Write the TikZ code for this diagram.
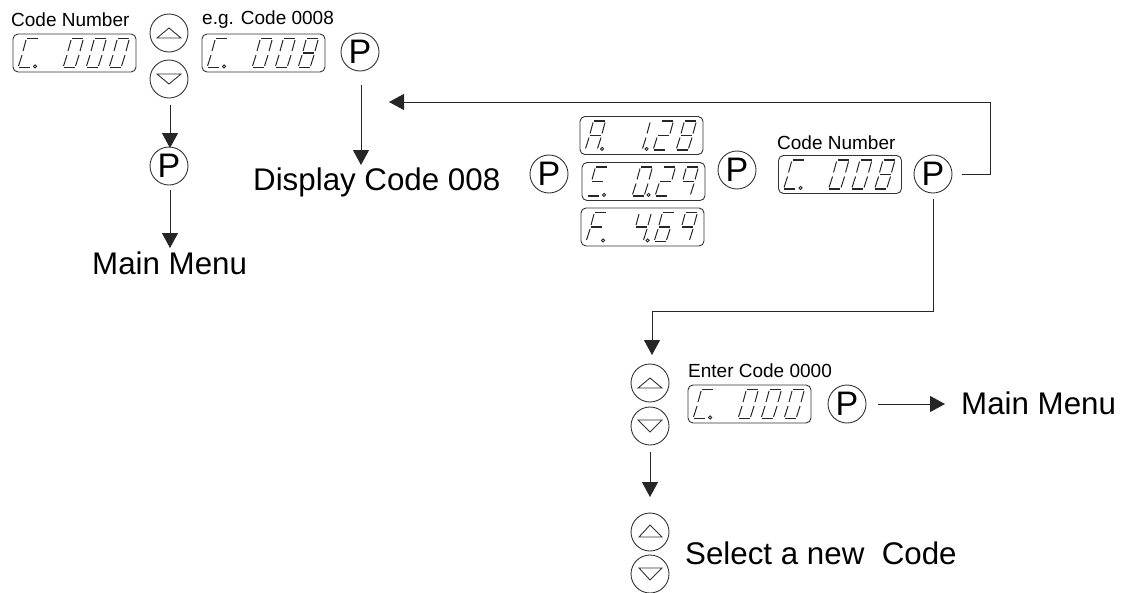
\documentclass[tikz,border=0pt]{standalone}
\usepackage{fontspec}
\setmainfont{Liberation Sans}
\usetikzlibrary{arrows.meta,calc}
\tikzset{
  x=1pt,y=-1pt,
  conn/.style={line width=1pt,draw=black!85,-{Triangle[length=15pt,width=16pt]}},
  keybtn/.style={circle,draw=black!80,line width=.9pt,minimum size=38pt,inner sep=0pt,font=\fontsize{34}{34}\selectfont},
  keytri/.style={line width=.9pt,draw=black!80},
  dispbox/.style={draw=black!80,line width=.9pt,rounded corners=5pt,minimum width=123pt,minimum height=38pt,inner sep=0pt},
  big/.style={inner sep=0pt,anchor=west,font=\fontsize{31.3}{32}\selectfont},
  small/.style={inner sep=0pt,anchor=west,font=\fontsize{19}{20}\selectfont},
  segthin/.style={line width=1pt,draw=black!85},
  segbold/.style={line width=1.8pt,draw=black!85},
}
\newcommand{\sseg}[2]{%
  \foreach \s in {#2}{%
    \if a\s \draw[segbold] ($(#1)+(9.5,-29)$) -- ($(#1)+(20.5,-29)$);\fi
    \if g\s \draw[segbold] ($(#1)+(5.5,-14.5)$) -- ($(#1)+(16.5,-14.5)$);\fi
    \if d\s \draw[segbold] ($(#1)+(1,0)$) -- ($(#1)+(12,0)$);\fi
    \if b\s \draw[segthin] ($(#1)+(20.5,-27.5)$) -- ($(#1)+(17.5,-16.5)$);\fi
    \if c\s \draw[segthin] ($(#1)+(16.5,-12.5)$) -- ($(#1)+(13,-1.5)$);\fi
    \if f\s \draw[segthin] ($(#1)+(8.5,-27.5)$) -- ($(#1)+(5.5,-16.5)$);\fi
    \if e\s \draw[segthin] ($(#1)+(4.5,-12.5)$) -- ($(#1)+(1,-1.5)$);\fi
  }%
}
\newcommand{\sdot}[1]{\draw[line width=.9pt,draw=black!85] (#1) circle (1.6pt);}
\newcommand{\sdisp}[5]{%
  \coordinate (o) at ($(#1.south west)+(5,-5)$);
  \sseg{$(o)+(0,0)$}{#2}
  \sdot{$(o)+(17.5,-1)$}
  \sseg{$(o)+(45,0)$}{#3}
  \sseg{$(o)+(68,0)$}{#4}
  \sseg{$(o)+(91,0)$}{#5}
}
\newcommand{\sdotb}[1]{\sdot{$(#1.south west)+(67,-6)$}}
\begin{document}
\begin{tikzpicture}
\useasboundingbox (0,0) rectangle (1122,592);
\clip (0,0) rectangle (1122,592);
% labels
\node[small] (l1) at (11,20) {Code Number};
\node[small] (l2) at (202,20) {e.g. Code 0008};
\node[small] (l3) at (777,143) {Code Number};
\node[small] (l4) at (688,371) {Enter Code 0000};
% top row
\node[dispbox] (d1) at (74.5,53) {};
\sdisp{d1}{a,f,e,d}{a,b,c,d,e,f}{a,b,c,d,e,f}{a,b,c,d,e,f}
\node[keybtn] (up1) at (169,33) {};
\node[keybtn] (dn1) at (169,79) {};
\draw[keytri] (157,38) -- (169,28) -- (181,38) -- cycle;
\draw[keytri] (157,74) -- (169,84) -- (181,74) -- cycle;
\node[dispbox] (d2) at (263.5,53) {};
\sdisp{d2}{a,f,e,d}{a,b,c,d,e,f}{a,b,c,d,e,f}{a,b,c,d,e,f,g}
\node[keybtn] (p1) at (360,52) {P};
\coordinate (a1s) at (170,105);
\coordinate (a1e) at (170,148);
\draw[conn] (a1s) -- (a1e);
\node[keybtn] (p2) at (169,166) {P};
\coordinate (a2e) at (170,248);
\draw[conn] (p2.south -| a2e) ++(0,5) -- (a2e);
\node[big] (mm1) at (92,263) {Main Menu};
\coordinate (a3s) at (361,85);
\coordinate (a3e) at (361,165);
\draw[conn] (a3s) -- (a3e);
\node[big] (dc) at (253,182) {Display Code 008};
% middle
\node[keybtn] (p3) at (549,174) {P};
\node[dispbox] (dA) at (641.5,135.5) {};
\sdisp{dA}{a,b,c,e,f,g}{b,c}{a,b,g,e,d}{a,b,c,d,e,f,g}
\sdotb{dA}
\node[dispbox] (dS) at (643.5,181.5) {};
\sdisp{dS}{a,f,g,d}{a,b,c,d,e,f}{a,b,g,e,d}{a,b,c,f,g}
\sdotb{dS}
\node[dispbox] (dF) at (642.5,227) {};
\sdisp{dF}{a,f,g,e}{f,g,b,c}{a,f,g,e,c,d}{a,b,c,f,g}
\sdotb{dF}
\node[keybtn] (p4) at (737,170) {P};
\node[dispbox] (d3) at (840,174.5) {};
\sdisp{d3}{a,f,e,d}{a,b,c,d,e,f}{a,b,c,d,e,f}{a,b,c,d,e,f,g}
\node[keybtn] (p5) at (933,174) {P};
% feedback arrow
\coordinate (fb1) at (990,174);
\coordinate (fb2) at (990,102);
\coordinate (fb3) at (389,102);
\draw[conn] (p5.east) ++(10,0) -- (fb1) -- (fb2) -- (fb3);
% down branch
\coordinate (br1) at (933,311);
\coordinate (br2) at (652,311);
\coordinate (br3) at (652,355);
\draw[conn] (p5.south) ++(0,6) -- (br1) -- (br2) -- (br3);
\node[keybtn] (up2) at (650,383) {};
\node[keybtn] (dn2) at (650,426) {};
\draw[keytri] (638,388) -- (650,378) -- (662,388) -- cycle;
\draw[keytri] (638,420) -- (650,432) -- (662,420) -- cycle;
\node[dispbox] (d4) at (749.5,404) {};
\sdisp{d4}{a,f,e,d}{a,b,c,d,e,f}{a,b,c,d,e,f}{a,b,c,d,e,f}
\node[keybtn] (p6) at (847,404) {P};
\coordinate (a5s) at (878,404);
\coordinate (a5e) at (945,404);
\draw[conn] (a5s) -- (a5e);
\node[big] (mm2) at (961,403) {Main Menu};
\coordinate (a6s) at (650,452);
\coordinate (a6e) at (650,497);
\draw[conn] (a6s) -- (a6e);
\node[keybtn] (up3) at (650,532) {};
\node[keybtn] (dn3) at (650,574) {};
\draw[keytri] (639,537) -- (650,525) -- (662,537) -- cycle;
\draw[keytri] (639,568) -- (650,580) -- (662,568) -- cycle;
\node[big] (sel) at (685,553) {Select a new\ \ Code};
\end{tikzpicture}
\end{document}
